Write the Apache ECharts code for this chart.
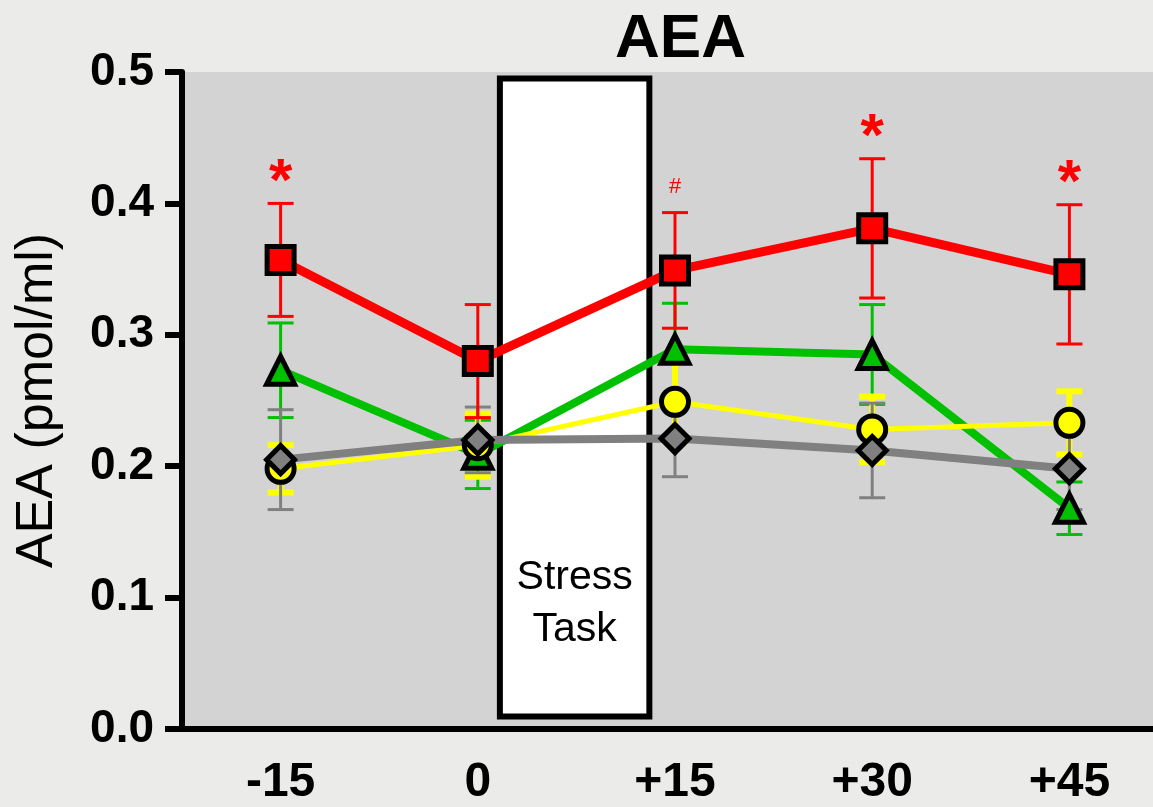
<!DOCTYPE html>
<html>
<head>
<meta charset="utf-8">
<script src="https://cdn.jsdelivr.net/npm/echarts@6/dist/echarts.min.js"></script>
<style>
  html, body { margin: 0; padding: 0; background: #ebebe9; }
  #chart { width: 1153px; height: 807px; }
</style>
</head>
<body>
<div id="chart"></div>
<script>
// Time points (minutes relative to the stress task)
const categories = ['-15', '0', '+15', '+30', '+45'];

// Group means and SEM (pmol/ml)
const redMean    = [0.357, 0.280, 0.349, 0.381, 0.346];
const redSem     = [0.043, 0.043, 0.044, 0.053, 0.053];
const greenMean  = [0.273, 0.209, 0.289, 0.285, 0.168];
const greenSem   = [0.036, 0.026, 0.035, 0.038, 0.020];
const yellowMean = [0.198, 0.216, 0.249, 0.228, 0.233];
const yellowSem  = [0.018, 0.024, 0.030, 0.025, 0.024];
const grayMean   = [0.205, 0.220, 0.221, 0.212, 0.198];
const graySem    = [0.038, 0.025, 0.029, 0.036, 0.031];

// Significance marks above the red group
const sigMarks = ['*', '', '#', '*', '*'];

const FONT = "'Liberation Sans', Arial, sans-serif";

function errorData(mean, sem) {
  return mean.map((m, i) => [i, m, sem[i]]);
}

function errorRender(color, width) {
  return function (params, api) {
    const x = api.value(0), m = api.value(1), e = api.value(2);
    const top = api.coord([x, m + e]);
    const bot = api.coord([x, m - e]);
    const half = 13;
    const st = { stroke: color, lineWidth: width };
    return {
      type: 'group',
      children: [
        { type: 'line', shape: { x1: top[0], y1: top[1], x2: bot[0], y2: bot[1] }, style: st },
        { type: 'line', shape: { x1: top[0] - half, y1: top[1], x2: top[0] + half, y2: top[1] }, style: st },
        { type: 'line', shape: { x1: bot[0] - half, y1: bot[1], x2: bot[0] + half, y2: bot[1] }, style: st }
      ]
    };
  };
}

function errorSeries(mean, sem, color, width) {
  return {
    type: 'custom',
    renderItem: errorRender(color, width),
    data: errorData(mean, sem),
    encode: { x: 0, y: 1 },
    silent: true
  };
}

function lineSeries(mean, color, lineWidth, symbol, size) {
  return {
    type: 'line',
    data: mean,
    symbol: symbol,
    symbolSize: size,
    showAllSymbol: true,
    lineStyle: { color: color, width: lineWidth },
    itemStyle: { color: color, borderColor: '#000', borderWidth: 5 },
    emphasis: { disabled: true },
    animation: false
  };
}

// White panel marking the stress task, between time points 0 and +15
const stressSeries = {
  type: 'custom',
  data: [[1, 0]],
  encode: { x: 0, y: 1 },
  silent: true,
  renderItem: function (params, api) {
    const band = api.size([1, 0])[0];
    const p0 = api.coord([1, 0.0095]);
    const p1 = api.coord([2, 0.495]);
    const x0 = p0[0] + band * 0.112;
    const x1 = p1[0] - band * 0.13;
    const textPos = api.coord([1, 0.0955]);
    return {
      type: 'group',
      children: [
        {
          type: 'rect',
          shape: { x: x0, y: p1[1], width: x1 - x0, height: p0[1] - p1[1] },
          style: { fill: '#ffffff', stroke: '#000', lineWidth: 6 }
        },
        {
          type: 'text',
          style: {
            x: (x0 + x1) / 2, y: textPos[1],
            text: 'Stress\nTask',
            fill: '#000', font: '41px ' + FONT,
            align: 'center', verticalAlign: 'middle', lineHeight: 52
          }
        }
      ]
    };
  }
};

// Significance labels placed above the upper SEM whisker of the red group
const sigSeries = {
  type: 'custom',
  data: redMean.map((m, i) => [i, m + redSem[i]]),
  encode: { x: 0, y: 1 },
  silent: true,
  z: 5,
  renderItem: function (params, api) {
    const mark = sigMarks[params.dataIndex];
    if (!mark) return null;
    const p = api.coord([api.value(0), api.value(1)]);
    const star = mark === '*';
    return {
      type: 'text',
      style: {
        x: p[0], y: p[1] - (star ? 20 : 26),
        text: mark,
        fill: '#ff0000',
        font: star ? ('bold 60px ' + FONT) : ('22px ' + FONT),
        align: 'center', verticalAlign: 'middle'
      }
    };
  }
};

const chart = echarts.init(document.getElementById('chart'), null, { renderer: 'canvas' });

chart.setOption({
  backgroundColor: '#ebebe9',
  animation: false,
  title: {
    text: 'AEA',
    left: 610, top: 4,
    textStyle: { fontFamily: FONT, fontSize: 62, fontWeight: 'bold', color: '#000' }
  },
  grid: {
    left: 182, top: 72, bottom: 78, width: 986,
    outerBoundsMode: 'none',
    containLabel: false,
    show: true, backgroundColor: '#d3d3d3', borderWidth: 0
  },
  xAxis: {
    type: 'category',
    data: categories,
    boundaryGap: true,
    axisLine: { lineStyle: { color: '#000', width: 6 } },
    axisTick: { alignWithLabel: true, length: 17, lineStyle: { color: '#000', width: 6 } },
    axisLabel: { fontFamily: FONT, fontSize: 48, fontWeight: 'bold', color: '#000', margin: 30 },
    splitLine: { show: false }
  },
  yAxis: {
    type: 'value',
    min: 0, max: 0.5, interval: 0.1,
    name: 'AEA (pmol/ml)',
    nameLocation: 'middle',
    nameGap: 118,
    nameTextStyle: { fontFamily: FONT, fontSize: 52, color: '#000' },
    axisLine: { show: true, lineStyle: { color: '#000', width: 6 } },
    axisTick: { show: true, length: 17, lineStyle: { color: '#000', width: 6 } },
    axisLabel: {
      fontFamily: FONT, fontSize: 46, fontWeight: 'bold', color: '#000', margin: 28,
      formatter: v => v.toFixed(1)
    },
    splitLine: { show: false }
  },
  series: [
    stressSeries,
    errorSeries(greenMean, greenSem, '#00c000', 3),
    lineSeries(greenMean, '#00c000', 8, 'triangle', 28),
    errorSeries(yellowMean, yellowSem, '#ffff00', 6),
    lineSeries(yellowMean, '#ffff00', 5, 'circle', 27),
    errorSeries(grayMean, graySem, '#808080', 3),
    lineSeries(grayMean, '#808080', 8, 'diamond', 28),
    errorSeries(redMean, redSem, '#ff0000', 3),
    lineSeries(redMean, '#ff0000', 9, 'rect', 27),
    sigSeries
  ]
});
</script>
</body>
</html>
